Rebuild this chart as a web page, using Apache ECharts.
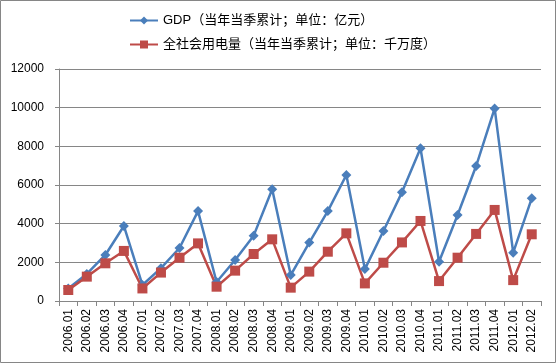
<!DOCTYPE html>
<html><head><meta charset="utf-8">
<script src="https://cdn.jsdelivr.net/npm/echarts@6/dist/echarts.min.js"></script>
<style>html,body{margin:0;padding:0;background:#fff}#c{width:556px;height:363px}</style>
</head><body><div id="c"></div>
<script>
const categories = ['2006.01','2006.02','2006.03','2006.04','2007.01','2007.02','2007.03','2007.04','2008.01','2008.02','2008.03','2008.04','2009.01','2009.02','2009.03','2009.04','2010.01','2010.02','2010.03','2010.04','2011.01','2011.02','2011.03','2011.04','2012.01','2012.02'];
const gdp = [650,1400,2380,3880,830,1700,2740,4650,980,2120,3380,5780,1340,3020,4650,6520,1650,3620,5620,7900,2030,4450,6980,9960,2500,5310];
const power = [570,1260,1950,2590,650,1470,2240,2980,740,1570,2430,3190,690,1520,2550,3500,910,1980,3030,4140,1030,2240,3470,4710,1080,3450];
const yTicks = [0,2000,4000,6000,8000,10000,12000];
const seriesNames = ['GDP（当年当季累计；单位：亿元）','全社会用电量（当年当季累计；单位：千万度）'];

const chart = echarts.init(document.getElementById('c'));
const cjk = '"Liberation Sans","Noto Sans CJK SC",sans-serif';
chart.setOption({
  animation:false,
  graphic:[{type:'rect',shape:{x:0.5,y:0.5,width:555,height:362},style:{fill:'none',stroke:'#868686',lineWidth:1}}],
  legend:{orient:'vertical',left:124,top:9,itemGap:11,itemWidth:28,itemHeight:10,
    textStyle:{fontFamily:cjk,fontSize:13,color:'#000'},data:seriesNames},
  grid:{left:59,right:15,top:69,bottom:62},
  xAxis:{type:'category',data:categories,boundaryGap:true,
    axisLine:{lineStyle:{color:'#868686'}},
    axisTick:{show:true,length:5,lineStyle:{color:'#868686'}},
    axisLabel:{rotate:90,interval:0,fontFamily:'"Liberation Sans",sans-serif',fontSize:12,color:'#000',margin:8}},
  yAxis:{type:'value',min:yTicks[0],max:yTicks[yTicks.length-1],interval:2000,
    axisLine:{show:true,lineStyle:{color:'#868686'}},
    axisTick:{show:true,length:4,lineStyle:{color:'#868686'}},
    splitLine:{lineStyle:{color:'#868686'}},
    axisLabel:{fontFamily:'"Liberation Sans",sans-serif',fontSize:12,color:'#000',margin:15,formatter:v=>String(v)}},
  series:[
    {name:seriesNames[0],type:'line',data:gdp,symbol:'diamond',symbolSize:10,
      lineStyle:{color:'#4A7EBB',width:2.5},itemStyle:{color:'#4A7EBB'}},
    {name:seriesNames[1],type:'line',data:power,symbol:'rect',symbolSize:10,
      lineStyle:{color:'#BE4B48',width:2.5},itemStyle:{color:'#BE4B48'}}
  ]
});
</script></body></html>
